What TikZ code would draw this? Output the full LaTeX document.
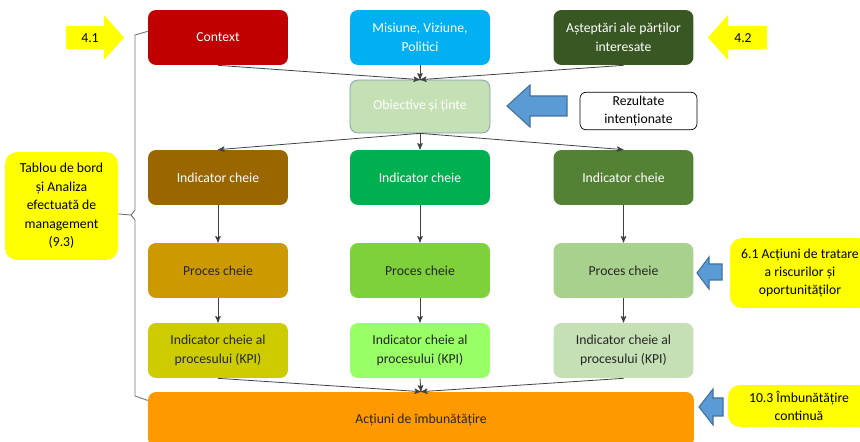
\documentclass[tikz,border=0pt]{standalone}
\usepackage{fontspec}
\setmainfont{Carlito}
\usepackage{tikz}
\usetikzlibrary{shapes,arrows,arrows.meta}

\definecolor{cContext}{HTML}{C00000}
\definecolor{cMission}{HTML}{00B0F0}
\definecolor{cStake}{HTML}{385723}
\definecolor{cGoal}{HTML}{C5E0B4}
\definecolor{cGoalLine}{HTML}{7C98B0}
\definecolor{cIndA}{HTML}{996600}
\definecolor{cIndB}{HTML}{00B050}
\definecolor{cIndC}{HTML}{548235}
\definecolor{cProA}{HTML}{CC9900}
\definecolor{cProB}{HTML}{7ED13A}
\definecolor{cProC}{HTML}{A9D18E}
\definecolor{cKpiA}{HTML}{CCCC00}
\definecolor{cKpiB}{HTML}{99FF66}
\definecolor{cKpiC}{HTML}{C5E0B4}
\definecolor{cAct}{HTML}{FF9900}
\definecolor{cHint}{HTML}{FFFF00}
\definecolor{cPush}{HTML}{5B9BD5}
\definecolor{cPushLine}{HTML}{41719C}

\begin{document}
\begin{tikzpicture}[x=0.02cm,y=-0.02cm]
		\useasboundingbox (0,0) rectangle (860,442);
		\begin{scope}
			[
				styleBox/.style={
					minimum width = 2.8cm, minimum height = 1.1cm,
					rounded corners = 0.16cm, inner sep = 2pt,
					align = center, font = \fontsize{7.8}{10.5}\selectfont,
					fill = #1
					},
				styleLight/.style={styleBox = #1, text = white},
				styleDark/.style={styleBox = #1, text = black!85},
				styleNote/.style={
					fill = cHint, rounded corners = 0.24cm, inner sep = 2pt,
					align = center, font = \fontsize{7.8}{10.5}\selectfont
					},
				styleHint/.style={fill = cHint},
				stylePush/.style={fill = cPush, draw = cPushLine, line width = 0.6pt},
			]
			\node(ctx)[styleLight=cContext] at (218,37.5) {Context};
			\node(mis)[styleLight=cMission] at (420,37.5) {Misiune, Viziune,\\Politici};
			\node(ast)[styleLight=cStake] at (623.5,37.5) {Așteptări ale părților\\interesate};

			\node(obj)[styleLight=cGoal, draw=cGoalLine, minimum height=1.06cm] at (420,106.5) {Obiective și ținte};
			\node(res)[styleBox=white, draw=black, minimum width=2.34cm, minimum height=0.72cm, rounded corners=0.12cm] at (638.5,111) {Rezultate\\intenționate};

			\node(tab)[styleNote, minimum width=2.26cm, minimum height=2.16cm] at (61.5,206) {Tablou de bord\\și Analiza\\efectuată de\\management\\(9.3)};

			\node(indA)[styleLight=cIndA] at (218,177.5) {Indicator cheie};
			\node(indB)[styleLight=cIndB] at (420,177.5) {Indicator cheie};
			\node(indC)[styleLight=cIndC] at (623.5,177.5) {Indicator cheie};

			\node(proA)[styleDark=cProA] at (218,270.5) {Proces cheie};
			\node(proB)[styleDark=cProB] at (420,270.5) {Proces cheie};
			\node(proC)[styleDark=cProC] at (623.5,270.5) {Proces cheie};

			\node(kpiA)[styleDark=cKpiA] at (218,350.5) {Indicator cheie al\\procesului (KPI)};
			\node(kpiB)[styleDark=cKpiB] at (420,350.5) {Indicator cheie al\\procesului (KPI)};
			\node(kpiC)[styleDark=cKpiC] at (623.5,350.5) {Indicator cheie al\\procesului (KPI)};

			\node(act)[styleDark=cAct, minimum width=10.92cm] at (421,419.5) {Acțiuni de îmbunătățire};

			\node(ris)[styleNote, minimum width=2.8cm, minimum height=1.4cm] at (800,273) {6.1 Acțiuni de tratare\\a riscurilor și\\oportunităților};
			\node(imp)[styleNote, minimum width=2.84cm, minimum height=0.84cm] at (799,406) {10.3 Îmbunătățire\\continuă};

			% yellow and blue pointers
			\fill[styleHint] (66,26) -- (104,26) -- (104,15) -- (124,37.5) -- (104,60) -- (104,49) -- (66,49) -- cycle;
			\node(hintA)[font=\fontsize{7.8}{10.5}\selectfont] at (90,38) {4.1};
			\fill[styleHint] (767,26) -- (728,26) -- (728,15) -- (708,37.5) -- (728,60) -- (728,49) -- (767,49) -- cycle;
			\node(hintB)[font=\fontsize{7.8}{10.5}\selectfont] at (743,38) {4.2};

			\filldraw[stylePush] (567,96) -- (530,96) -- (530,85) -- (507,106) -- (530,127) -- (530,116) -- (567,116) -- cycle;
			\filldraw[stylePush] (722,264) -- (709,264) -- (709,257) -- (697,273) -- (709,289) -- (709,280) -- (722,280) -- cycle;
			\filldraw[stylePush] (723,398) -- (713,398) -- (713,389) -- (699,407) -- (713,425) -- (713,416) -- (723,416) -- cycle;
		\end{scope}

		\begin{scope}
			[ flow/.style = {->, draw=black!75, line width=0.45pt},
				brace/.style = {draw=black!55, line width=0.5pt},
				>=stealth', shorten >=0pt]
			\path
			(ctx.south) edge[flow] (obj.north)
			(mis.south) edge[flow] (obj.north)
			(ast.south) edge[flow] (obj.north)

			(obj.south) edge[flow] (indA.north)
			(obj.south) edge[flow] (indB.north)
			(obj.south) edge[flow] (indC.north)

			(indA) edge[flow] (proA)
			(indB) edge[flow] (proB)
			(indC) edge[flow] (proC)

			(proA) edge[flow] (kpiA)
			(proB) edge[flow] (kpiB)
			(proC) edge[flow] (kpiC)

			(kpiA.south) edge[flow] (act.north)
			(kpiB.south) edge[flow] (act.north)
			(kpiC.south) edge[flow] (act.north);

			\draw[brace] (ctx.175) -- (135,35) -- (135,210) -- (131,215) -- (tab.-8);
			\draw[brace] (131,215) -- (135,220) -- (135,396) -- (act.176);
		\end{scope}
	\end{tikzpicture}
\end{document}
